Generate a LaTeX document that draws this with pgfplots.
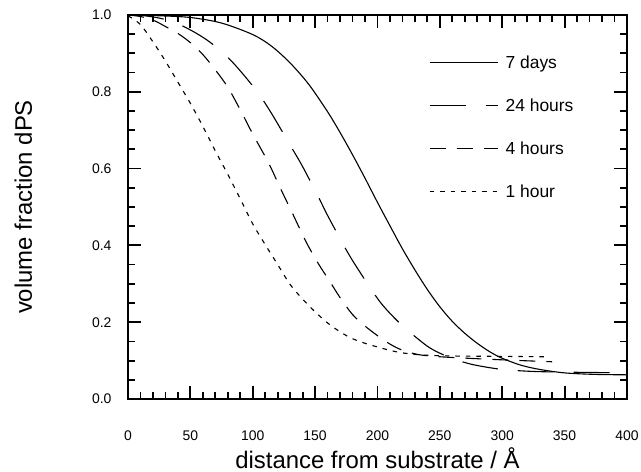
\documentclass[border=0pt]{standalone}
\usepackage{fontspec}
\setmainfont{Liberation Sans}
\usepackage{pgfplots}
\pgfplotsset{compat=1.18}
\begin{document}
\begin{tikzpicture}
\useasboundingbox (-128bp,-73bp) rectangle (513bp,399bp);
\begin{axis}[
  at={(0,0)}, anchor=south west,
  scale only axis, width=499bp, height=384bp,
  xmin=0, xmax=400, ymin=0, ymax=1.0,
  xtick={0,50,...,400}, ytick={0,0.2,...,1.0},
  minor x tick num=4, minor y tick num=3,
  major tick length=13bp, minor tick length=7bp,
  every tick/.style={black, line width=1.8bp},
  axis line style={line width=2.5bp},
  /pgf/number format/assume math mode=true,
  yticklabel style={/pgf/number format/fixed, /pgf/number format/fixed zerofill, /pgf/number format/precision=1, xshift=-13bp},
  xticklabel style={yshift=-28bp},
  tick label style={font=\fontsize{14}{16}\selectfont},
  xlabel={distance from substrate / Å},
  ylabel={volume fraction dPS},
  label style={font=\fontsize{24}{28}\selectfont, inner sep=0pt},
  xlabel style={at={(axis description cs:0.5,-0.1797)}, anchor=base},
  ylabel style={at={(axis description cs:-0.1924,0.5)}, anchor=base, rotate=0},
  legend style={draw=none, fill=none, inner sep=0pt, outer sep=0pt,
    at={(rel axis cs:0.6032,0.8945)}, anchor=north west,
    font=\fontsize{17.5}{20}\selectfont, row sep=30.4bp, column sep=7.5bp,
    cells={anchor=west},
    nodes={inner sep=0pt, text height=12.6bp, text depth=0pt}},
  legend image code/.code={\draw[#1] (0bp,-0.5bp) -- (68bp,-0.5bp);},
  legend cell align=left,
]
\addplot[black, line width=1.1bp, smooth] coordinates {
(0,1.0) (25,0.998) (50,0.9935) (75,0.979) (100,0.949) (115,0.919) (130,0.875) (145,0.819) (160,0.748) (170,0.694) (180,0.636) (190,0.575) (200,0.512) (210,0.451) (220,0.391) (230,0.336) (240,0.285) (250,0.240) (260,0.202) (270,0.171) (280,0.145) (290,0.123) (300,0.106) (315,0.088) (330,0.077) (350,0.068) (375,0.064) (400,0.063)};
\addlegendentry{7 days}
\addplot[black, line width=1.1bp, smooth, dash pattern=on 36bp off 20bp] coordinates {
(0,1.0) (10,0.999) (20,0.995) (30,0.988) (42,0.974) (55,0.952) (67,0.926) (82,0.883) (93,0.843) (104.5,0.796) (115,0.744) (130,0.661) (140,0.605) (152.5,0.527) (160,0.478) (175,0.388) (185,0.335) (202,0.253) (217,0.2) (230,0.163) (242,0.133) (255,0.112) (270,0.095) (282,0.086) (300,0.077) (323,0.072) (350,0.07) (400,0.068)};
\addlegendentry{24 hours}
\addplot[black, line width=1.1bp, smooth, dash pattern=on 16bp off 11bp] coordinates {
(0,1.0) (10,0.996) (20,0.987) (30,0.97) (40,0.952) (50,0.928) (60,0.897) (70,0.857) (80,0.812) (90,0.753) (100,0.69) (112.5,0.616) (122,0.55) (132.5,0.479) (142,0.414) (148.5,0.375) (154,0.345) (162,0.305) (170,0.264) (180,0.22) (190,0.19) (200,0.165) (210,0.143) (220,0.127) (234,0.115) (255,0.109) (300,0.102) (340,0.097)};
\addlegendentry{4 hours}
\addplot[black, line width=1.1bp, smooth, dash pattern=on 4.5bp off 6bp] coordinates {
(0,0.998) (10,0.975) (20,0.93) (30,0.88) (40,0.825) (50,0.77) (60,0.71) (70,0.646) (80,0.585) (90,0.521) (100,0.456) (110,0.402) (120,0.35) (130,0.298) (140,0.26) (150,0.227) (160,0.198) (170,0.175) (180,0.157) (194,0.141) (215,0.123) (234,0.115) (260,0.112) (300,0.111) (335,0.11)};
\addlegendentry{1 hour}
\end{axis}
\end{tikzpicture}
\end{document}
